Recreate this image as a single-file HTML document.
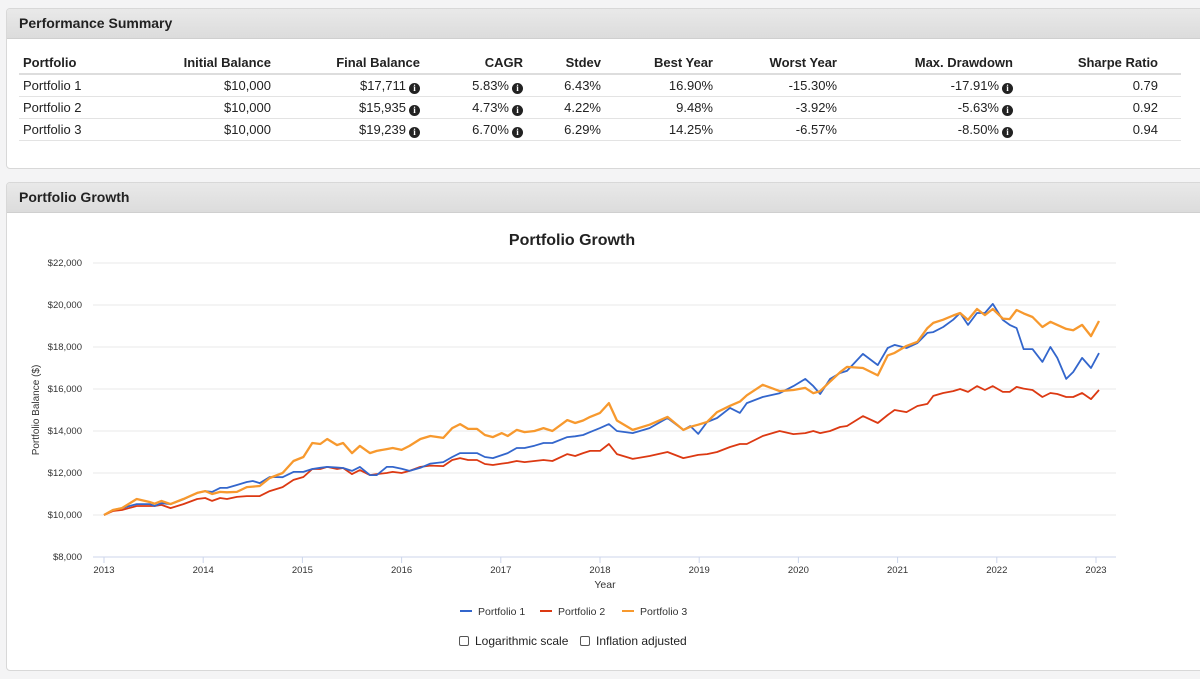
<!DOCTYPE html>
<html><head><meta charset="utf-8">
<style>
body{margin:0;width:1200px;height:679px;background:#f4f4f5;font-family:"Liberation Sans",sans-serif;color:#222;overflow:hidden;position:relative}
.panel{position:absolute;left:6px;width:1210px;background:#fff;border:1px solid #d8d8d8;border-radius:4px;overflow:hidden}
.ph{height:29px;background:linear-gradient(#e9e9e9,#dcdcdc);border-bottom:1px solid #cfcfcf;font-weight:bold;font-size:14px;line-height:29px;padding-left:12px}
table{position:absolute;left:12px;top:42px;border-collapse:collapse;font-size:13px;width:1162px;table-layout:fixed}
th{font-weight:bold;text-align:right;height:22px;padding:0 4px;border-bottom:2px solid #ddd}
td{text-align:right;height:21px;padding:0 4px;border-bottom:1px solid #e3e3e3}
td:first-child,th:first-child{text-align:left}
.i{display:inline-block;width:11px;height:11px;border-radius:50%;background:#222;color:#fff;font-size:9px;line-height:11px;text-align:center;font-weight:bold;font-family:"Liberation Serif",serif;vertical-align:-1px;margin-left:3px}
</style></head><body>
<div class="panel" style="top:8px;height:159px">
<div class="ph">Performance Summary</div>
<table>
<colgroup><col style="width:132px"><col style="width:124px"><col style="width:149px"><col style="width:103px"><col style="width:78px"><col style="width:112px"><col style="width:124px"><col style="width:176px"><col style="width:164px"></colgroup>
<tr><th>Portfolio</th><th>Initial Balance</th><th>Final Balance</th><th>CAGR</th><th>Stdev</th><th>Best Year</th><th>Worst Year</th><th>Max. Drawdown</th><th style="padding-right:23px">Sharpe Ratio</th></tr>
<tr><td>Portfolio 1</td><td>$10,000</td><td>$17,711<span class="i">i</span></td><td>5.83%<span class="i">i</span></td><td>6.43%</td><td>16.90%</td><td>-15.30%</td><td>-17.91%<span class="i">i</span></td><td style="padding-right:23px">0.79</td></tr>
<tr><td>Portfolio 2</td><td>$10,000</td><td>$15,935<span class="i">i</span></td><td>4.73%<span class="i">i</span></td><td>4.22%</td><td>9.48%</td><td>-3.92%</td><td>-5.63%<span class="i">i</span></td><td style="padding-right:23px">0.92</td></tr>
<tr><td>Portfolio 3</td><td>$10,000</td><td>$19,239<span class="i">i</span></td><td>6.70%<span class="i">i</span></td><td>6.29%</td><td>14.25%</td><td>-6.57%</td><td>-8.50%<span class="i">i</span></td><td style="padding-right:23px">0.94</td></tr>
</table>
</div>
<div class="panel" style="top:182px;height:487px">
<div class="ph">Portfolio Growth</div>
</div>
<svg id="chart" width="1200" height="679" style="position:absolute;left:0;top:0" font-family="Liberation Sans, sans-serif"></svg>
<script>
const xpix=[104,113,122,137,150,155,162,170,183,197,205,212,220,227,237,247,253,260,270,283,293,303,312,320,327,337,343,352,360,370,377,387,393,402,410,420,430,443,452,460,468,477,485,493,502,508,517,525,535,543,552,567,575,583,590,600,609,617,633,650,667,683,690,698,707,717,730,740,747,763,780,793,805,813,820,830,840,847,863,878,888,895,907,917,927,933,943,953,960,968,977,985,993,1003,1010,1017,1024,1033,1042,1050,1057,1066,1073,1082,1091,1099];
const dates=xpix.map(p=>+(2013+(p-104)/99.2).toFixed(2));
const portfolio1=[10000,10240,10330,10520,10520,10430,10560,10520,10750,11050,11140,11100,11290,11290,11430,11570,11620,11520,11810,11800,12050,12050,12190,12250,12290,12260,12240,12100,12290,11900,11900,12290,12290,12200,12100,12250,12450,12520,12760,12950,12950,12950,12760,12710,12850,12950,13190,13190,13300,13430,13430,13710,13750,13810,13950,14140,14330,
14000,13900,14140,14620,14050,14240,13860,14430,14620,15100,14860,15330,15620,15800,16140,16480,16140,15760,16480,16760,16860,17670,17140,17950,18100,17950,18190,18670,18710,18950,19300,19620,19050,19620,19620,20050,19290,19050,18900,17900,17900,17290,18000,17480,16480,16810,17480,17000,17710];
const portfolio2=[10000,10190,10240,10430,10430,10430,10480,10330,10520,10760,10810,10670,10810,10760,10860,10900,10900,10900,11140,11330,11670,11810,12190,12190,12290,12190,12240,11950,12140,11900,11950,12000,12050,12000,12100,12290,12350,12330,12620,12710,12620,12620,12430,12380,12450,12480,12570,12520,12570,12620,12570,12900,12810,12950,13050,13050,13380,
12900,12670,12810,13000,12710,12780,12860,12900,13000,13240,13380,13380,13760,14000,13850,13900,14000,13900,14000,14190,14240,14710,14380,14760,15000,14900,15190,15290,15670,15810,15900,16000,15860,16140,15950,16140,15860,15860,16100,16020,15950,15620,15810,15760,15620,15620,15810,15520,15950];
const portfolio3=[10000,10240,10330,10760,10620,10540,10670,10520,10760,11050,11140,11000,11100,11080,11100,11330,11350,11380,11760,12000,12570,12760,13430,13380,13620,13330,13430,12950,13290,12950,13050,13140,13190,13100,13290,13620,13760,13670,14140,14330,14100,14100,13810,13710,13900,13760,14050,13950,14000,14140,14000,14520,14380,14500,14670,14860,15330,
14500,14050,14300,14670,14050,14200,14300,14430,14900,15200,15400,15700,16200,15900,15950,16050,15800,15900,16350,16800,17050,17000,16650,17600,17720,18050,18250,18900,19150,19300,19500,19620,19290,19810,19520,19810,19350,19330,19760,19600,19430,18950,19200,19050,18860,18800,19050,18520,19240];
const yTicks=[8000,10000,12000,14000,16000,18000,20000,22000];
const xTicks=[2013,2014,2015,2016,2017,2018,2019,2020,2021,2022,2023];
const seriesNames=["Portfolio 1","Portfolio 2","Portfolio 3"];
const colors=["#3366cc","#dc3912","#f7992e"];

const svg=document.getElementById('chart');const NS='http://www.w3.org/2000/svg';
const X=d=>104+(d-2013)*99.2;
const Y=v=>557-(v-8000)*0.021;
function mk(t,a,txt){const e=document.createElementNS(NS,t);for(const k in a)e.setAttribute(k,a[k]);if(txt!=null)e.textContent=txt;svg.appendChild(e);return e;}
let e;
e=mk('text',{x:572,y:245,'text-anchor':'middle','font-size':16,'font-weight':'bold',fill:'#222'},'Portfolio Growth');


yTicks.forEach(v=>{
 if(v>8000){e=mk('line',{x1:93,x2:1116,y1:Y(v),y2:Y(v),stroke:'#e8e8e8','stroke-width':1});
 
 }
 e=mk('text',{x:82,y:Y(v)+3,'text-anchor':'end','font-size':9.5,fill:'#333'},'$'+v.toLocaleString('en-US'));
 
 
});
e=mk('line',{x1:93,x2:1116,y1:557,y2:557,stroke:'#ccd6eb','stroke-width':1});


xTicks.forEach(d=>{
 e=mk('line',{x1:X(d),x2:X(d),y1:557,y2:563,stroke:'#ccd6eb'});
 
 
 e=mk('text',{x:X(d),y:573,'text-anchor':'middle','font-size':9.5,fill:'#333'},String(d));
 
 
});
e=mk('text',{x:605,y:588,'text-anchor':'middle','font-size':10.5,fill:'#333'},'Year');


e=mk('text',{x:39,y:410,'text-anchor':'middle','font-size':10,fill:'#333',transform:'rotate(-90 39 410)'},'Portfolio Balance ($)');


[portfolio2,portfolio1,portfolio3].forEach((s,k)=>{
 const idx=[1,0,2][k];
 const pts=s.map((v,i)=>X(dates[i]).toFixed(1)+','+Y(v).toFixed(1)).join(' ');
 e=mk('polyline',{points:pts,fill:'none',stroke:colors[idx],'stroke-width':idx==2?2.3:1.8,'stroke-linejoin':'round'});
 
 
});
const lx=[460,540,622];
seriesNames.forEach((n,i)=>{
 e=mk('line',{x1:lx[i],x2:lx[i]+12,y1:611,y2:611,stroke:colors[i],'stroke-width':2});
 
 
 e=mk('text',{x:lx[i]+18,y:615,'font-size':10.5,fill:'#333'},n);
 
 
});
e=mk('rect',{x:459.5,y:636.5,width:9,height:9,rx:1.5,fill:'#fff',stroke:'#555'});


e=mk('text',{x:475,y:645,'font-size':12,fill:'#222'},'Logarithmic scale');


e=mk('rect',{x:580.5,y:636.5,width:9,height:9,rx:1.5,fill:'#fff',stroke:'#555'});


e=mk('text',{x:596,y:645,'font-size':12,fill:'#222'},'Inflation adjusted');


</script>
</body></html>
